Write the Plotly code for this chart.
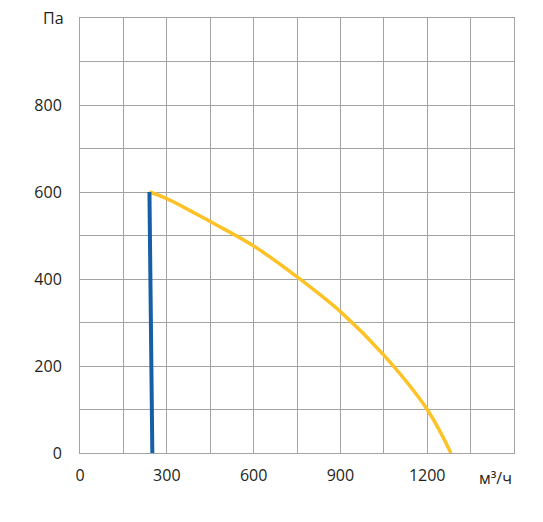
import plotly.graph_objects as go

# Рабочая характеристика: расход (м³/ч) — давление (Па)
curve_flow = [240, 300, 450, 600, 750, 900, 1050, 1200, 1282]
curve_pressure = [600, 585, 532, 476, 405, 325, 225, 100, 0]

limit_flow = [240, 250]
limit_pressure = [600, 0]

x_ticks = [0, 150, 300, 450, 600, 750, 900, 1050, 1200, 1350, 1500]
x_labels = ["0", "", "300", "", "600", "", "900", "", "1200", "", ""]
y_ticks = [0, 100, 200, 300, 400, 500, 600, 700, 800, 900, 1000]
y_labels = ["0", "", "200", "", "400", "", "600", "", "800", "", ""]

GRID = "#a3a3a3"

fig = go.Figure()
fig.add_trace(go.Scatter(
    x=curve_flow, y=curve_pressure, mode="lines",
    line=dict(color="#fdc226", width=3.5, shape="spline", smoothing=1.0),
))
fig.add_trace(go.Scatter(
    x=limit_flow, y=limit_pressure, mode="lines",
    line=dict(color="#165ea5", width=4),
))

# подписи единиц измерения на концах осей
fig.add_annotation(
    x=1500, y=0, xref="x", yref="y", text="м³/ч",
    showarrow=False, xanchor="right", yanchor="top", yshift=-12,
)
fig.add_annotation(
    x=0, y=1000, xref="paper", yref="y", text="Па",
    showarrow=False, xanchor="right", yanchor="middle", xshift=-14,
)

fig.update_layout(
    width=543, height=522,
    margin=dict(l=72, r=37, t=10, b=77),
    paper_bgcolor="white", plot_bgcolor="white",
    showlegend=False,
    font=dict(family="Open Sans", size=16, color="#231f20"),
    xaxis=dict(
        range=[0, 1500], tickvals=x_ticks, ticktext=x_labels,
        showgrid=True, gridcolor=GRID, gridwidth=1,
        showline=True, linecolor=GRID, mirror=True, zeroline=False,
        ticks="", ticklabelstandoff=8,
    ),
    yaxis=dict(
        range=[0, 1000], tickvals=y_ticks, ticktext=y_labels,
        showgrid=True, gridcolor=GRID, gridwidth=1,
        showline=True, linecolor=GRID, mirror=True, zeroline=False,
        ticks="", ticklabelstandoff=14,
    ),
)

fig.write_html("out.html")
